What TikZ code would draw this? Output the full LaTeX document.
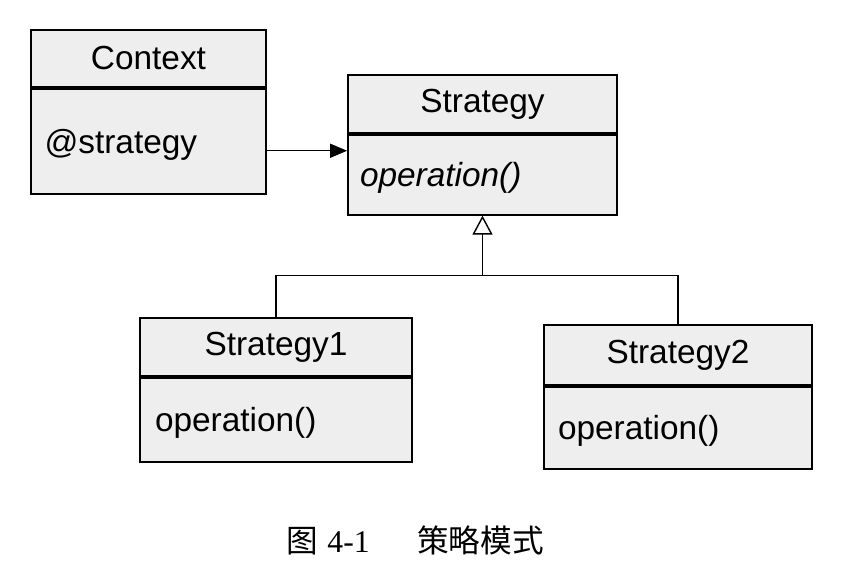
\documentclass[tikz,border=0pt]{standalone}
\usepackage{fontspec}
\setmainfont{Liberation Sans}
\newfontfamily\cjk{Noto Sans CJK SC}
\newfontfamily\capfont{Liberation Serif}
\usetikzlibrary{positioning,arrows.meta}

\begin{document}
\begin{tikzpicture}[
  classname/.style={draw, line width=1pt, fill=gray!13, inner sep=0pt,
    font=\fontsize{19}{22}\selectfont},
  classbody/.style={draw, line width=1pt, fill=gray!13, inner sep=0pt,
    font=\fontsize{19}{22}\selectfont, anchor=north, text depth=0pt},
  link/.style={line width=0.8pt}
]
\useasboundingbox (0,0) rectangle (17.2,-11.56);

% Context
\node[classname, minimum width=4.7cm, minimum height=1.14cm] (ctxname) at (2.97,-1.17) {Context};
\node[classbody, minimum width=4.7cm, minimum height=2.1cm, text width=4.16cm, below=0pt of ctxname] (ctxbody) {@strategy};

% Strategy
\node[classname, minimum width=5.38cm, minimum height=1.16cm] (stratname) at (9.65,-2.08) {Strategy};
\node[classbody, minimum width=5.38cm, minimum height=1.6cm, text width=4.9cm, below=0pt of stratname] (stratbody) {\itshape operation()};

% Strategy1 / Strategy2
\node[classname, minimum width=5.44cm, minimum height=1.16cm] (s1name) at (5.52,-6.94) {Strategy1};
\node[classbody, minimum width=5.44cm, minimum height=1.68cm, text width=4.84cm, below=0pt of s1name] (s1body) {operation()};

\node[classname, minimum width=5.36cm, minimum height=1.2cm] (s2name) at (13.56,-7.1) {Strategy2};
\node[classbody, minimum width=5.36cm, minimum height=1.64cm, text width=4.8cm, below=0pt of s2name] (s2body) {operation()};

% association
\coordinate (ctxout) at ([yshift=-0.19cm]ctxbody.east);
\draw[link, -{Triangle[length=0.34cm,width=0.28cm]}] (ctxout) -- (ctxout -| stratbody.west);

% inheritance
\coordinate (join) at ([yshift=-1.2cm]stratbody.south);
\draw[link, -{Triangle[open,length=0.38cm,width=0.4cm]}] (join) -- (stratbody.south);
\draw[link] (s1name.north) |- (join) -| (s2name.north);

% caption
\node[font=\fontsize{18}{20}\selectfont] (caption) at (8.3,-10.8) {{\cjk 图}\hspace{0.3em}{\capfont 4-1}\hspace{1.5em}{\cjk 策略模式}};

\end{tikzpicture}
\end{document}
